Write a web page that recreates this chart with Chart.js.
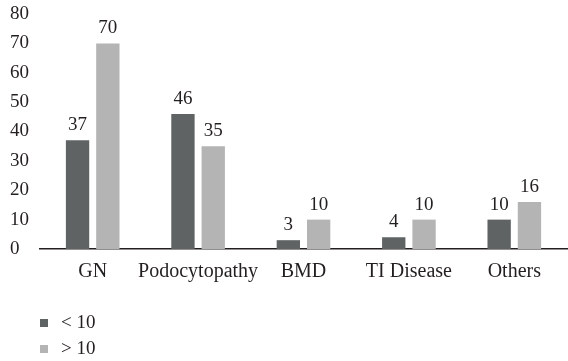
<!DOCTYPE html>
<html>
<head>
<meta charset="utf-8">
<style>
  html, body { margin: 0; padding: 0; background: #ffffff; }
  #wrap { position: relative; width: 568px; height: 361px; }
</style>
<script src="https://cdn.jsdelivr.net/npm/chart.js@4/dist/chart.umd.min.js"></script>
</head>
<body>
<div id="wrap"><canvas id="chart" width="568" height="361"></canvas></div>
<script>
// Cases by disease group, split by follow-up duration
const categories = ['GN', 'Podocytopathy', 'BMD', 'TI Disease', 'Others'];
const seriesNames = ['< 10', '> 10'];
const lessThan10 = [37, 46, 3, 4, 10];
const moreThan10 = [70, 35, 10, 10, 16];
const yTicks = [0, 10, 20, 30, 40, 50, 60, 70, 80];

const DARK = '#5f6363';
const LIGHT = '#b4b4b4';
const TEXT = '#231f20';
const FONT = "'Liberation Serif', 'Times New Roman', serif";

// Value labels above each bar
const valueLabels = {
  id: 'valueLabels',
  afterDatasetsDraw(chart) {
    const ctx = chart.ctx;
    ctx.save();
    ctx.font = '19px ' + FONT;
    ctx.fillStyle = TEXT;
    ctx.textAlign = 'center';
    ctx.textBaseline = 'alphabetic';
    chart.data.datasets.forEach((ds, i) => {
      const meta = chart.getDatasetMeta(i);
      meta.data.forEach((bar, j) => {
        ctx.fillText(String(ds.data[j]), bar.x, bar.y - 10);
      });
    });
    ctx.restore();
  }
};

// Vertical legend under the plot, one row per series
const stackedLegend = {
  id: 'stackedLegend',
  afterDraw(chart) {
    const ctx = chart.ctx;
    ctx.save();
    ctx.font = '19px ' + FONT;
    ctx.textAlign = 'left';
    ctx.textBaseline = 'middle';
    chart.data.datasets.forEach((ds, i) => {
      const y = 319 + i * 26;
      ctx.fillStyle = ds.backgroundColor;
      ctx.fillRect(40, y, 8, 8);
      ctx.fillStyle = TEXT;
      ctx.fillText(ds.label, 61, y + 4);
    });
    ctx.restore();
  }
};

new Chart(document.getElementById('chart'), {
  type: 'bar',
  data: {
    labels: categories,
    datasets: [
      { label: seriesNames[0], data: lessThan10, backgroundColor: DARK },
      { label: seriesNames[1], data: moreThan10, backgroundColor: LIGHT }
    ]
  },
  options: {
    responsive: false,
    animation: false,
    devicePixelRatio: 1,
    categoryPercentage: 0.575,
    barPercentage: 0.77,
    layout: { padding: { left: 10, right: 1, top: 14, bottom: 0 } },
    plugins: {
      legend: { display: false },
      tooltip: { enabled: false }
    },
    scales: {
      x: {
        grid: { display: false, drawTicks: false },
        border: { display: true, color: TEXT, width: 1.5 },
        ticks: {
          color: TEXT,
          font: { family: FONT, size: 20 },
          padding: 11,
          maxRotation: 0,
          autoSkip: false
        },
        afterFit(scale) { scale.height = 112; }
      },
      y: {
        min: 0,
        max: 80,
        grid: { display: false, drawTicks: false },
        border: { display: false },
        afterBuildTicks(scale) { scale.ticks = yTicks.map(v => ({ value: v })); },
        ticks: {
          color: TEXT,
          font: { family: FONT, size: 19 },
          crossAlign: 'far',
          padding: 8
        },
        afterFit(scale) {
          scale.width = 30;
          scale.paddingTop = 0;
          scale.paddingBottom = 0;
        }
      }
    }
  },
  plugins: [valueLabels, stackedLegend]
});
</script>
</body>
</html>
